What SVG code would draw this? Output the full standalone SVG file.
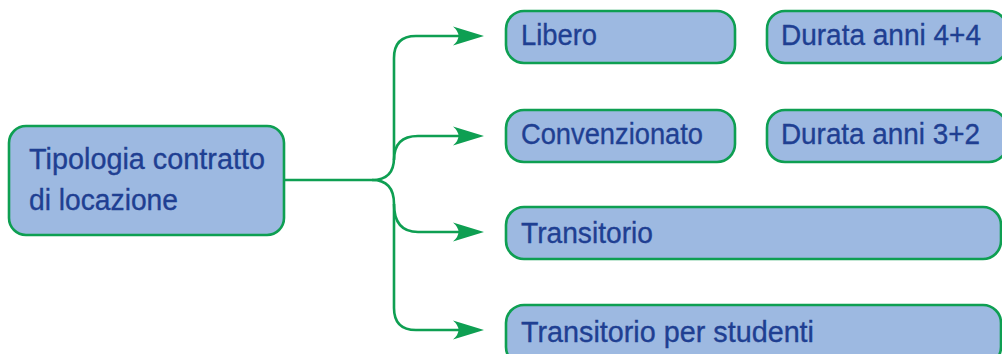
<svg xmlns="http://www.w3.org/2000/svg" width="1002" height="354" viewBox="0 0 1002 354">
<style>
.box{fill:#9DB9E1;stroke:#0E9F52;stroke-width:2.6}
.t{font-family:"Liberation Sans",Arial,sans-serif;font-size:29px;fill:#1F3F92;stroke:#1F3F92;stroke-width:0.35}
.c{fill:none;stroke:#0E9F52;stroke-width:2.6}
.ah{fill:#0E9F52}
</style>
<defs>
<path id="arr" d="M0,0 L-31,-9.5 Q-20,0 -31,9.5 Z"/>
</defs>
<g id="connectors">
<path class="c" d="M284,180 H372 Q394,180 394,158 V58 Q394,36 416,36 H462"/>
<path class="c" d="M394,160 Q394,136 418,136 H462"/>
<path class="c" d="M372,180 Q394,180 394,204 Q394,232 418,232 H462"/>
<path class="c" d="M394,204 V308 Q394,330 416,330 H462"/>
<use href="#arr" class="ah" x="484" y="36"/>
<use href="#arr" class="ah" x="484" y="136"/>
<use href="#arr" class="ah" x="484" y="232"/>
<use href="#arr" class="ah" x="484" y="330"/>
</g>
<g id="n-main">
<rect class="box" x="9" y="126" width="275" height="109" rx="17"/>
<text class="t" x="29" y="169" textLength="236" lengthAdjust="spacingAndGlyphs">Tipologia contratto</text>
<text class="t" x="29" y="210" textLength="149" lengthAdjust="spacingAndGlyphs">di locazione</text>
</g>
<g id="n-libero">
<rect class="box" x="506" y="11" width="229" height="52" rx="18"/>
<text class="t" x="521" y="45" textLength="76" lengthAdjust="spacingAndGlyphs">Libero</text>
</g>
<g id="n-durata44">
<rect class="box" x="767" y="11" width="240" height="52" rx="18"/>
<text class="t" x="781" y="45" textLength="200" lengthAdjust="spacingAndGlyphs">Durata anni 4+4</text>
</g>
<g id="n-convenzionato">
<rect class="box" x="506" y="110" width="229" height="52" rx="18"/>
<text class="t" x="521" y="144" textLength="182" lengthAdjust="spacingAndGlyphs">Convenzionato</text>
</g>
<g id="n-durata32">
<rect class="box" x="767" y="110" width="240" height="52" rx="18"/>
<text class="t" x="781" y="144" textLength="199" lengthAdjust="spacingAndGlyphs">Durata anni 3+2</text>
</g>
<g id="n-transitorio">
<rect class="box" x="506" y="207" width="495" height="52" rx="18"/>
<text class="t" x="521" y="243" textLength="132" lengthAdjust="spacingAndGlyphs">Transitorio</text>
</g>
<g id="n-studenti">
<rect class="box" x="506" y="305" width="495" height="60" rx="18"/>
<text class="t" x="521" y="342" textLength="293" lengthAdjust="spacingAndGlyphs">Transitorio per studenti</text>
</g>
</svg>
